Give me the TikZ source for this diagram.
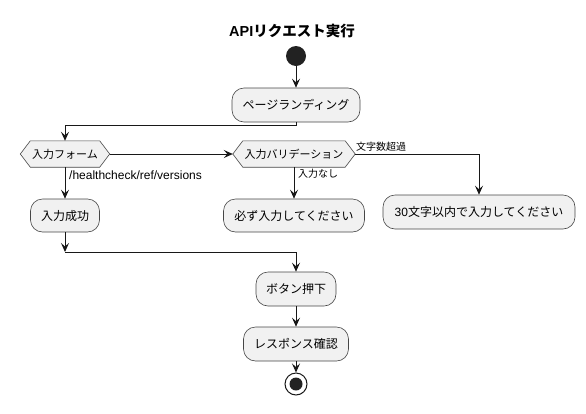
\documentclass[tikz,border=0pt]{standalone}
\usepackage{fontspec}
\setmainfont{Noto Sans CJK JP}
\newfontfamily\latinfont{Liberation Sans}
\usetikzlibrary{arrows.meta,backgrounds}
\definecolor{boxfill}{HTML}{F1F1F1}
\definecolor{linec}{HTML}{181818}
\definecolor{startc}{HTML}{222222}
\begin{document}
\begin{tikzpicture}[x=1pt,y=-1pt,
  act/.style={rectangle, rounded corners=12pt, draw=linec!80, line width=0.6pt, fill=boxfill, minimum height=34pt, inner sep=0pt, font=\fontsize{12}{14}\selectfont},
  hexnode/.style={rectangle, inner sep=0pt, minimum height=26pt, font=\fontsize{11}{13}\selectfont},
  hexline/.style={draw=linec!80, line width=0.6pt, fill=boxfill},
  lbl/.style={inner sep=0pt, font=\fontsize{10}{12}\selectfont},
  arr/.style={draw=linec, line width=1pt, -{Stealth[length=9pt,width=8pt,inset=3.5pt]}}]
\useasboundingbox (0,0) rectangle (586,413);

\node[font=\bfseries\fontsize{14.5}{16}\selectfont] (title) at (292,31) {{\latinfont\bfseries API}リクエスト実行};
\node[circle, fill=startc, minimum size=20pt, inner sep=0pt] (start) at (296,56) {};
\node[act, minimum width=128pt] (p1) at (296,105) {ページランディング};
\node[hexnode, minimum width=89pt] (d1) at (65,154) {入力フォーム};
\node[hexnode, minimum width=122pt] (d2) at (294,154) {入力バリデーション};
\node[act, minimum width=69pt, minimum height=33pt] (a1) at (65,215.5) {入力成功};
\node[act, minimum width=141pt, minimum height=33pt] (a2) at (294,215.5) {必ず入力してください};
\node[act, minimum width=192pt] (a3) at (479,212) {{\latinfont 30}文字以内で入力してください};
\node[act, minimum width=80pt] (b1) at (296,289) {ボタン押下};
\node[act, minimum width=105pt] (b2) at (296,344) {レスポンス確認};
\node[circle, draw=linec, line width=1pt, fill=white, minimum size=22pt, inner sep=0pt] (end) at (296,384) {};
\fill[startc] (end.center) circle (6.5pt);

\begin{scope}[on background layer]
\foreach \n in {d1,d2}{
  \draw[hexline] (\n.west) -- ([xshift=10pt]\n.north west) -- ([xshift=-10pt]\n.north east) -- (\n.east) -- ([xshift=-10pt]\n.south east) -- ([xshift=10pt]\n.south west) -- cycle;
}
\end{scope}

\node[lbl, anchor=west, font=\latinfont\fontsize{12}{14}\selectfont] (l1) at (69,175) {/healthcheck/ref/versions};
\node[lbl, anchor=west] (l2) at (298,174) {入力なし};
\node[lbl, anchor=west] (l3) at (356,146.5) {文字数超過};

\coordinate (m) at (65,252);
\draw[arr] (start) -- (p1);
\draw[arr] (p1.south) -- ++(0,3) -| (d1.north);
\draw[arr] (d1.east) -- (d2.west);
\draw[arr] (d1.south) -- (a1.north);
\draw[arr] (d2.south) -- (a2.north);
\draw[arr] (d2.east) -| (a3.north);
\draw[arr] (a1.south) -- (m);
\draw[arr] (m) -| (b1.north);
\draw[arr] (b1) -- (b2);
\draw[arr] (b2) -- (end);
\end{tikzpicture}
\end{document}
